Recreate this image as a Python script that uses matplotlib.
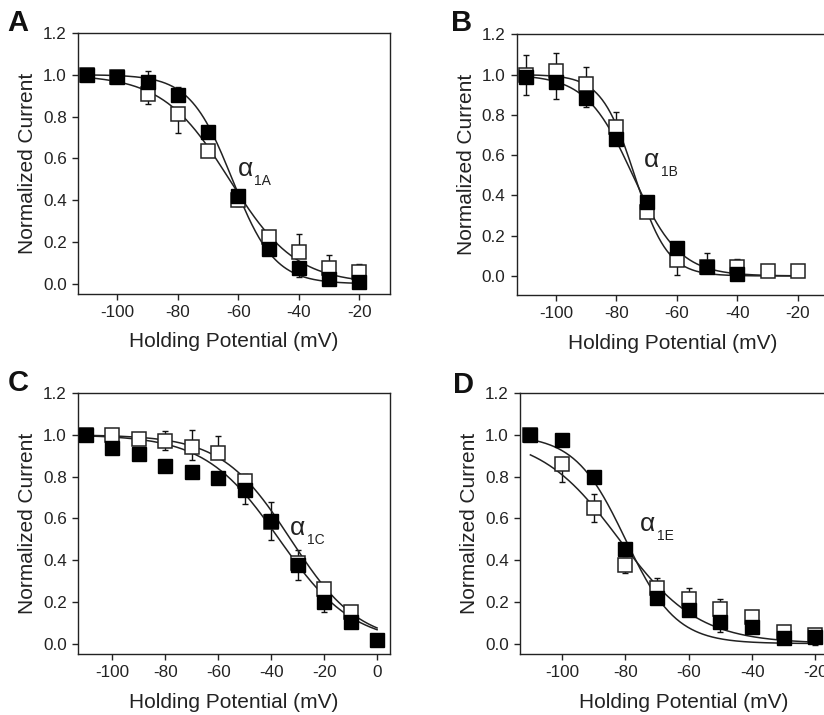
import numpy as np
import matplotlib
matplotlib.use("Agg")
import matplotlib.pyplot as plt

plt.rcParams['font.family'] = ['Liberation Sans', 'DejaVu Sans']

# holding potentials (mV)
v_ab = [-110, -100, -90, -80, -70, -60, -50, -40, -30, -20]
v_c = [-110, -100, -90, -80, -70, -60, -50, -40, -30, -20, -10, 0]

# panel A (alpha 1A)
a_fill = [1.0, 0.99, 0.963, 0.904, 0.725, 0.42, 0.165, 0.075, 0.025, 0.008]
a_fill_lo = [0, 0, 0, 0, 0, 0, 0, 0.04, 0, 0]
a_fill_hi = [0, 0.02, 0.053, 0.036, 0.01, 0, 0, 0, 0, 0]
a_open = [1.0, 0.99, 0.91, 0.81, 0.634, 0.40, 0.225, 0.153, 0.076, 0.056]
a_open_lo = [0, 0, 0.05, 0.09, 0.015, 0.03, 0, 0, 0, 0]
a_open_hi = [0, 0.02, 0, 0, 0, 0, 0, 0.085, 0.06, 0.04]

# panel B (alpha 1B)
b_v_fill = [-110, -100, -90, -80, -70, -60, -50, -40]
b_fill = [0.988, 0.963, 0.884, 0.68, 0.367, 0.14, 0.045, 0.012]
b_fill_lo = [0.09, 0.085, 0.045, 0, 0, 0, 0, 0]
b_fill_hi = [0.11, 0, 0, 0, 0, 0, 0.07, 0.074]
b_open = [1.0, 1.017, 0.953, 0.742, 0.316, 0.078, 0.045, 0.045, 0.025, 0.025]
b_open_lo = [0, 0, 0, 0, 0, 0.075, 0, 0, 0, 0]
b_open_hi = [0, 0.09, 0.087, 0.07, 0, 0, 0, 0, 0.01, 0]

# panel C (alpha 1C)
c_fill = [1.0, 0.938, 0.909, 0.85, 0.822, 0.793, 0.734, 0.588, 0.376, 0.2, 0.102, 0.018]
c_fill_lo = [0, 0, 0, 0, 0, 0.02, 0.067, 0.09, 0.072, 0.047, 0, 0]
c_fill_hi = [0, 0, 0, 0, 0, 0, 0, 0.09, 0.074, 0, 0, 0]
c_v_open = [-110, -100, -90, -80, -70, -60, -50, -40, -30, -20, -10]
c_open = [1.0, 1.0, 0.978, 0.968, 0.94, 0.914, 0.777, 0.583, 0.384, 0.261, 0.15]
c_open_lo = [0, 0, 0, 0.04, 0.06, 0, 0, 0, 0, 0, 0]
c_open_hi = [0, 0.02, 0, 0.048, 0.085, 0.08, 0.035, 0, 0, 0.02, 0.02]

# panel D (alpha 1E)
d_fill = [1.0, 0.976, 0.80, 0.452, 0.22, 0.16, 0.105, 0.081, 0.029, 0.03]
d_fill_lo = [0, 0, 0, 0, 0, 0, 0.048, 0, 0, 0.036]
d_fill_hi = [0, 0, 0, 0, 0, 0, 0, 0, 0, 0.03]
d_open = [1.0, 0.86, 0.65, 0.374, 0.265, 0.212, 0.166, 0.126, 0.054, 0.04]
d_open_lo = [0, 0.084, 0.07, 0.037, 0, 0, 0, 0, 0, 0]
d_open_hi = [0, 0, 0.066, 0.036, 0.048, 0.053, 0.046, 0.019, 0, 0]

# Boltzmann fit parameters (V50, k)
fits = {
    "A": [(-62, 7), (-63, 11)],
    "B": [(-74.6, 7.7), (-74, 5.5)],
    "C": [(-37, 14), (-32.7, 13)],
    "D": [(-80, 8), (-82, 12.5)],
}


def boltz(v, v50, k):
    return 1.0 / (1.0 + np.exp((v - v50) / k))


def panel(ax, vf, yf, flo, fhi, vo, yo, olo, ohi, fit, xlim, ylim, xticks, sub, tx, ty, dx):
    ax.errorbar(vo, yo, yerr=[olo, ohi], fmt='none', ecolor='#111', elinewidth=1,
                capsize=2.5, capthick=1, zorder=2)
    ax.errorbar(vf, yf, yerr=[flo, fhi], fmt='none', ecolor='#111', elinewidth=1,
                capsize=2.5, capthick=1, zorder=2)
    vv = np.linspace(min(vf + vo), max(vf + vo), 300)
    for v50, k in fit:
        ax.plot(vv, boltz(vv, v50, k), color='#222', lw=1.1, zorder=3)
    ax.plot(vo, yo, 's', ms=9.5, mfc='white', mec='#222', mew=1.1, zorder=4, ls='none')
    ax.plot(vf, yf, 's', ms=9.5, mfc='black', mec='black', mew=1, zorder=5, ls='none')
    ax.set_xlim(xlim)
    ax.set_ylim(ylim)
    ax.set_xticks(xticks)
    ax.set_xticklabels([str(t) for t in xticks])
    ax.set_yticks([0, 0.2, 0.4, 0.6, 0.8, 1.0, 1.2])
    ax.set_yticklabels(["0.0", "0.2", "0.4", "0.6", "0.8", "1.0", "1.2"])
    ax.tick_params(direction='out', length=4, width=1, labelsize=12.3,
                   colors='#222', top=False, right=False, pad=4)
    for s in ax.spines.values():
        s.set_linewidth(1)
        s.set_color('#222')
    ax.set_xlabel("Holding Potential (mV)", fontsize=15, color='#222', labelpad=9)
    ax.set_ylabel("Normalized Current", fontsize=15, color='#222', labelpad=4)
    ax.text(tx, ty, "\u03b1", fontsize=19, color='#222', ha='left', va='center')
    ax.text(tx + dx, ty - 0.06, sub, fontsize=10, color='#222', ha='left', va='center')


fig = plt.figure(figsize=(8.24, 7.15), dpi=100)

axA = fig.add_axes([0.0947, 0.589, 0.378, 0.365])
panel(axA, v_ab, a_fill, a_fill_lo, a_fill_hi, v_ab, a_open, a_open_lo, a_open_hi,
      fits["A"], (-113, -10), (-0.048, 1.2), [-100, -80, -60, -40, -20], "1A", -60.3, 0.55, 5.6)

axB = fig.add_axes([0.627, 0.587, 0.378, 0.365])
panel(axB, b_v_fill, b_fill, b_fill_lo, b_fill_hi, v_ab, b_open, b_open_lo, b_open_hi,
      fits["B"], (-113, -10), (-0.096, 1.2), [-100, -80, -60, -40, -20], "1B", -71, 0.575, 5.6)

axC = fig.add_axes([0.0947, 0.0853, 0.378, 0.365])
panel(axC, v_c, c_fill, c_fill_lo, c_fill_hi, c_v_open, c_open, c_open_lo, c_open_hi,
      fits["C"], (-113, 4.7), (-0.05, 1.2), [-100, -80, -60, -40, -20, 0], "1C", -32.8, 0.555, 6.4)

axD = fig.add_axes([0.631, 0.0853, 0.397, 0.365])
panel(axD, v_ab, d_fill, d_fill_lo, d_fill_hi, v_ab, d_open, d_open_lo, d_open_hi,
      fits["D"], (-113.3, -10), (-0.05, 1.2), [-100, -80, -60, -40, -20], "1E", -75.5, 0.575, 5.4)

for lab, x, y in [("A", 0.022, 0.968), ("B", 0.56, 0.968), ("C", 0.022, 0.465), ("D", 0.562, 0.462)]:
    fig.text(x, y, lab, fontsize=21, fontweight='bold', ha='center', va='center', color='#111')

fig.savefig("out.png", dpi=100)
